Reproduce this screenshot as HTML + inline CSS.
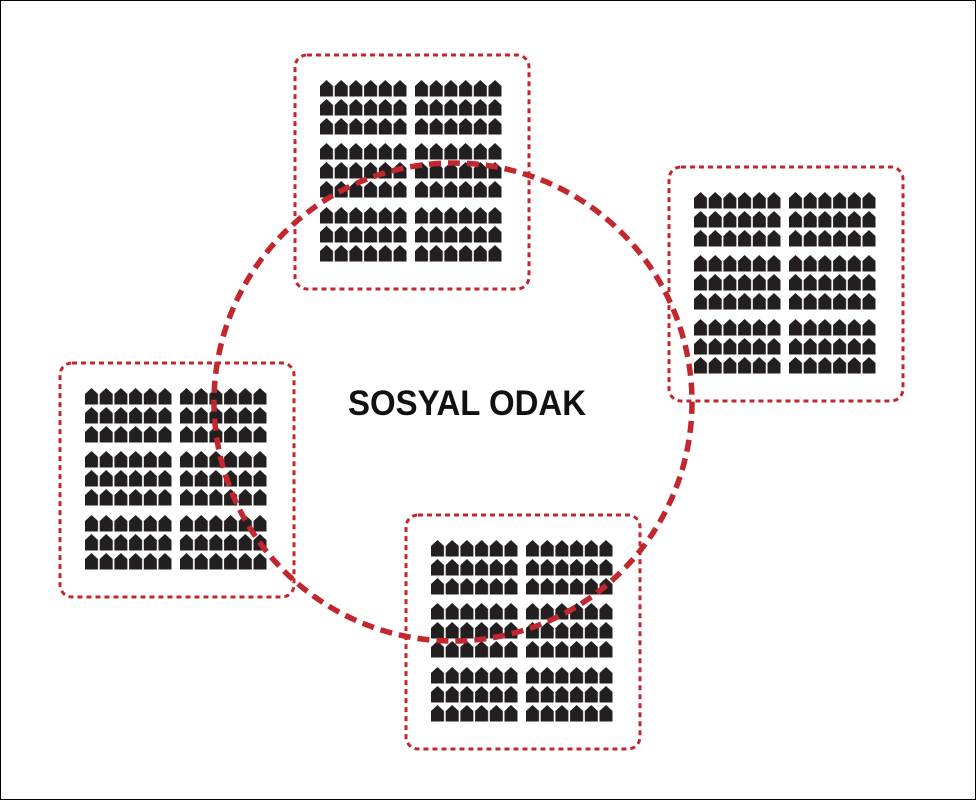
<!DOCTYPE html>
<html><head><style>html,body{margin:0;padding:0;background:#fff}svg{display:block}</style></head>
<body>
<svg width="976" height="800" viewBox="0 0 976 800" xmlns="http://www.w3.org/2000/svg">
<defs>
<pattern id="h" patternUnits="userSpaceOnUse" width="14.7" height="19">
<path d="M0 6 L6.5 0 L13 6 L13 16.5 L0 16.5 Z" fill="#231f20"/>
</pattern>
<g id="blk"><rect x="0" y="0" width="88" height="57" fill="url(#h)"/></g>
<g id="box">
<rect x="0" y="0" width="234" height="234" rx="12" fill="none" stroke="#c1272d" stroke-width="3" stroke-dasharray="5 4"/>
<use href="#blk" x="25" y="25"/><use href="#blk" x="120" y="25"/>
<use href="#blk" x="25" y="88"/><use href="#blk" x="120" y="88"/>
<use href="#blk" x="25" y="152"/><use href="#blk" x="120" y="152"/>
</g>
</defs>
<rect x="0.5" y="0.5" width="975" height="799" fill="#fff" stroke="#000" stroke-width="1"/>
<use href="#box" x="295" y="55"/>
<use href="#box" x="669" y="167"/>
<use href="#box" x="60" y="363"/>
<use href="#box" x="406" y="515"/>
<circle cx="453" cy="402" r="239" fill="none" stroke="#c1272d" stroke-width="5.5" stroke-dasharray="12 7"/>
<text x="467" y="415" text-anchor="middle" font-family="Liberation Sans, sans-serif" font-weight="bold" font-size="35" fill="#111" textLength="238" lengthAdjust="spacingAndGlyphs">SOSYAL ODAK</text>
</svg>
</body></html>
